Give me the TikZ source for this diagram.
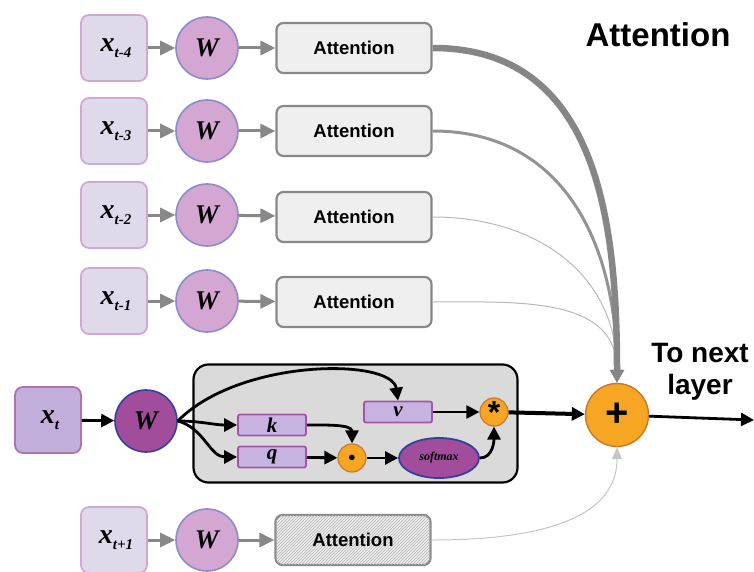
\documentclass[tikz,border=0pt]{standalone}
\usepackage{fontspec}
\setmainfont{Liberation Serif}
\setsansfont{Liberation Sans}
\usetikzlibrary{arrows.meta, patterns, shapes.geometric}

\definecolor{xfill}{HTML}{DEDAEC}
\definecolor{xline}{HTML}{D2A8D2}
\definecolor{xtfill}{HTML}{C2AEDA}
\definecolor{xtline}{HTML}{B072B0}
\definecolor{wfill}{HTML}{D4A6D2}
\definecolor{wline}{HTML}{8C8CC8}
\definecolor{wdfill}{HTML}{A24C9C}
\definecolor{wdline}{HTML}{34409C}
\definecolor{attfill}{HTML}{EFEFEF}
\definecolor{attline}{HTML}{888888}
\definecolor{kqfill}{HTML}{C7B3E0}
\definecolor{kqline}{HTML}{A455AA}
\definecolor{opfill}{HTML}{F6A623}
\definecolor{opline}{HTML}{C8782A}
\definecolor{panelfill}{HTML}{DADADA}

\newcommand{\xsub}[1]{\hspace{4pt}{\fontsize{28}{28}\selectfont\bfseries\itshape x}\raisebox{-6pt}{\fontsize{15}{15}\selectfont\bfseries\itshape #1}}
\newcommand{\wlab}{{\fontsize{27}{27}\selectfont\bfseries\itshape W}}

\begin{document}
\begin{tikzpicture}[x=1pt, y=-1pt,
  xbox/.style={draw=xline, fill=xfill, line width=1.8pt, rounded corners=8pt, minimum width=66pt, minimum height=66pt, inner sep=0pt},
  xtbox/.style={xbox, draw=xtline, fill=xtfill},
  wnode/.style={circle, draw=wline, fill=wfill, line width=1.6pt, minimum size=62pt, inner sep=0pt},
  wdnode/.style={wnode, draw=wdline, fill=wdfill},
  attbox/.style={draw=attline, fill=attfill, line width=2.2pt, rounded corners=7pt, minimum width=155pt, minimum height=50pt, font=\sffamily\bfseries\fontsize{18.5}{18.5}\selectfont},
  kqbox/.style={draw=kqline, fill=kqfill, line width=1.8pt, rounded corners=2pt, minimum width=68pt, minimum height=21pt, inner sep=0pt, font=\fontsize{21}{21}\selectfont\bfseries\itshape},
  opnode/.style={circle, draw=opline, fill=opfill, line width=1.2pt, minimum size=28pt, inner sep=0pt},
  panel/.style={draw=black, fill=panelfill, line width=2.2pt, rounded corners=15pt, minimum width=324pt, minimum height=118pt},
  title/.style={font=\sffamily\bfseries\fontsize{33}{36}\selectfont},
  garrow/.style={draw=attline, line width=3pt, -{Triangle[length=15pt, width=14pt]}},
  barrow/.style={draw=black, line width=2.8pt, -{Triangle[length=13pt, width=13pt]}}]
  \useasboundingbox (0,0) rectangle (754,572);
  \node[xbox] (x4) at (114,48) {\xsub{t-4}};
  \node[wnode] (w4) at (207,48) {\wlab};
  \node[attbox] (a4) at (354,48) {Attention};
  \node[xbox] (x3) at (114,131) {\xsub{t-3}};
  \node[wnode] (w3) at (207,131) {\wlab};
  \node[attbox] (a3) at (354,131) {Attention};
  \node[xbox] (x2) at (114,215) {\xsub{t-2}};
  \node[wnode] (w2) at (207,215) {\wlab};
  \node[attbox] (a2) at (354,217) {Attention};
  \node[xbox] (x1) at (114,301) {\xsub{t-1}};
  \node[wnode] (w1) at (207,301) {\wlab};
  \node[attbox] (a1) at (354,302) {Attention};
  \draw[garrow] (x4) -- (w4);
  \draw[garrow] (w4) -- (a4);
  \draw[garrow] (x3) -- (w3);
  \draw[garrow] (w3) -- (a3);
  \draw[garrow] (x2) -- (w2);
  \draw[garrow] (w2) -- (a2);
  \draw[garrow] (x1) -- (w1);
  \draw[garrow] (w1) -- (a1);
  \node[panel] (panel) at (355.5,423.5) {};
  \node[xtbox] (xt) at (48,420) {\xsub{t}};
  \node[wdnode] (wt) at (146,421) {\wlab};
  \node[kqbox] (v) at (398,412) {v};
  \node[kqbox] (k) at (272,425) {k};
  \node[kqbox] (q) at (272,457) {q};
  \node[opnode] (dot) at (352,458) {\fontsize{15}{15}\selectfont$\bullet$};
  \node[ellipse, draw=wdline, fill=wdfill, line width=1.8pt, minimum width=80pt, minimum height=40pt, inner sep=0pt, font=\fontsize{12}{12}\selectfont\itshape\bfseries] (sm) at (439,458) {softmax};
  \node[opnode] (star) at (494,412) {\raisebox{-9pt}{\fontsize{32}{32}\selectfont\sffamily\bfseries *}};
  \node[circle, draw=opline, fill=opfill, line width=1.4pt, minimum size=63pt, inner sep=0pt] (plus) at (617,415) {\fontsize{40}{40}\selectfont\sffamily\bfseries +};
  \coordinate (outend) at (754,420);
  \draw[barrow] (xt) -- (wt);
  \draw[barrow] (wt.east) .. controls (240,358) and (392,358) .. (v.north);
  \draw[barrow] (wt.east) to[out=0, in=180] (k.west);
  \draw[barrow] (wt.east) to[out=-15, in=180] (q.west);
  \draw[barrow] (k.east) to[out=0, in=90] (dot.north);
  \draw[barrow] (q) -- (dot);
  \draw[barrow] (dot) -- (sm);
  \draw[barrow] (sm.east) to[out=0, in=-90] (star.south);
  \draw[barrow] (v) -- (star);
  \draw[barrow, line width=4pt] (star) -- (plus);
  \draw[barrow] (plus) -- (outend);
  \draw[draw=gray!55, line width=1pt, -{Triangle[length=13pt, width=11pt]}] (a1.east) to[out=0, in=90, looseness=1.1] (plus.north);
  \draw[draw=gray!55, line width=1pt, -{Triangle[length=13pt, width=11pt]}] (a2.east) to[out=0, in=90, looseness=1.1] (plus.north);
  \draw[draw=gray!85, line width=3pt, -{Triangle[length=13pt, width=12pt]}] (a3.east) to[out=0, in=90, looseness=1.1] (plus.north);
  \draw[draw=gray!95, line width=6.5pt, -{Triangle[length=13pt, width=14pt]}] (a4.east) to[out=0, in=90, looseness=1.1] (plus.north);
  \node[xbox] (x0) at (114,540) {\xsub{t+1}};
  \node[wnode] (w0) at (207,540) {\wlab};
  \node[attbox, postaction={pattern=north east lines, pattern color=gray!60}] (a0) at (353,540) {Attention};
  \draw[garrow] (x0) -- (w0);
  \draw[garrow] (w0) -- (a0);
  \draw[draw=gray!45, line width=1pt, -{Triangle[length=12pt, width=10pt]}] (a0.east) to[out=0, in=-90] (plus.south);
  \node[title] (ttl) at (658,35) {Attention};
  \node[title, align=center, font=\sffamily\bfseries\fontsize{28}{32}\selectfont] (nxt) at (700,372) {To next\\layer};
\end{tikzpicture}
\end{document}
